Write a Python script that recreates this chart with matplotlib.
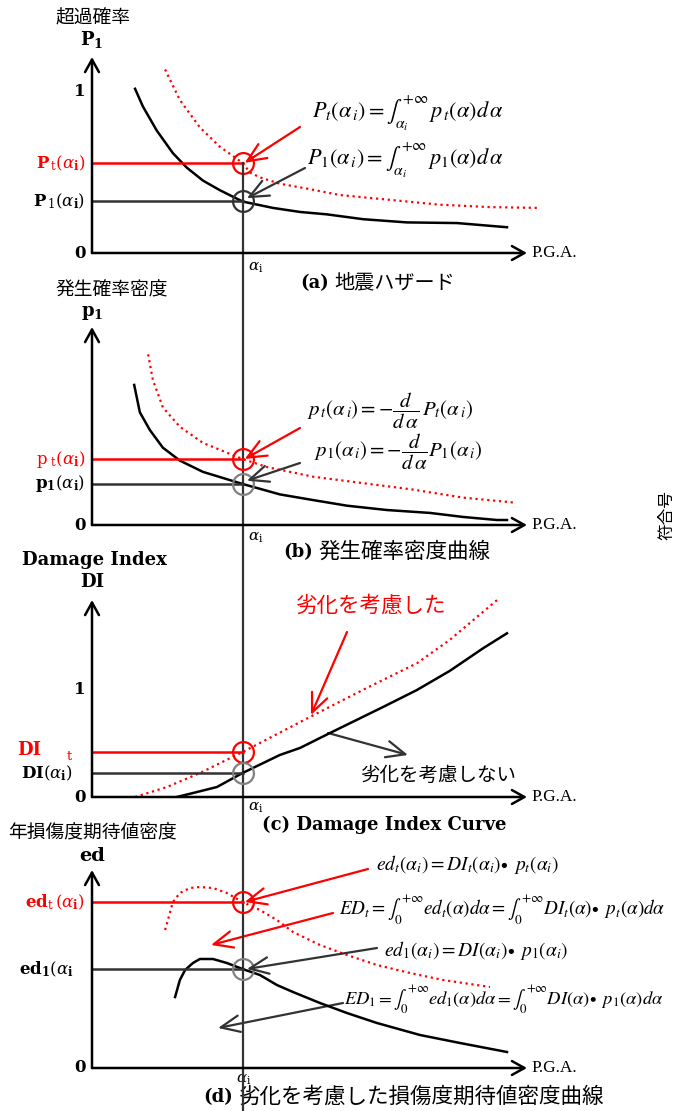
import numpy as np
import matplotlib.pyplot as plt
from matplotlib.transforms import blended_transform_factory

plt.rcParams['font.family'] = ['DejaVu Serif', 'Noto Sans CJK JP']
JP = 'Noto Sans CJK JP'

W, H = 677, 1111

# PGA of interest
alpha_i = 3.46

# (a) seismic hazard: exceedance probability
haz_x = [0.99, 1.17, 1.49, 1.86, 2.18, 2.55, 2.94, 3.46, 3.63, 4.16, 4.78, 5.40, 6.23, 7.24, 8.39, 9.54]
haz_P1 = [1.02, 0.91, 0.76, 0.62, 0.53, 0.45, 0.39, 0.32, 0.31, 0.28, 0.255, 0.24, 0.21, 0.19, 0.186, 0.16]
hazt_x = [1.68, 2.02, 2.48, 2.94, 3.46, 3.63, 3.86, 4.32, 4.94, 5.70, 6.85, 8.0, 9.15, 10.3]
haz_Pt = [1.14, 0.95, 0.78, 0.66, 0.56, 0.50, 0.47, 0.43, 0.40, 0.36, 0.33, 0.30, 0.285, 0.28]
P1_i, Pt_i = 0.32, 0.56

# (b) probability density
pdf_x = [0.97, 1.10, 1.33, 1.63, 2.02, 2.55, 3.46, 4.32, 5.08, 5.86, 6.78, 7.77, 8.53, 9.31, 9.54]
pdf_p1 = [0.87, 0.70, 0.59, 0.48, 0.40, 0.33, 0.255, 0.19, 0.155, 0.12, 0.093, 0.075, 0.05, 0.031, 0.031]
pdft_x = [1.29, 1.40, 1.63, 2.02, 2.55, 3.46, 4.02, 5.08, 6.23, 7.38, 8.53, 9.68]
pdf_pt = [1.06, 0.90, 0.73, 0.61, 0.51, 0.41, 0.36, 0.30, 0.26, 0.22, 0.17, 0.14]
p1_i, pt_i = 0.255, 0.41

# (c) damage index curve
di_x = [1.95, 2.32, 2.87, 3.46, 4.32, 4.78, 5.47, 6.69, 7.47, 8.23, 8.99, 9.54]
di_1 = [0.0, 0.037, 0.093, 0.224, 0.393, 0.458, 0.598, 0.841, 1.0, 1.18, 1.39, 1.53]
dit_x = [0.99, 1.72, 2.48, 3.46, 5.01, 6.32, 7.47, 8.23, 9.31]
di_t = [0.0, 0.093, 0.224, 0.42, 0.748, 1.02, 1.25, 1.47, 1.84]
DI1_i, DIt_i = 0.224, 0.42

# (d) expected damage density
ed_x = [1.91, 2.02, 2.14, 2.32, 2.48, 2.78, 3.10, 3.46, 3.86, 4.25, 4.62, 5.24, 5.86, 6.55, 7.54, 8.46, 9.54]
ed_1 = [0.71, 0.88, 0.98, 1.05, 1.09, 1.09, 1.05, 0.99, 0.93, 0.83, 0.76, 0.65, 0.55, 0.45, 0.33, 0.25, 0.16]
edt_x = [1.68, 1.79, 1.86, 2.02, 2.25, 2.48, 2.78, 3.10, 3.46, 3.86, 4.25, 4.62, 5.24, 5.86, 6.55, 7.31, 8.07, 9.15]
ed_t = [1.38, 1.55, 1.66, 1.75, 1.80, 1.81, 1.80, 1.75, 1.66, 1.58, 1.48, 1.36, 1.23, 1.13, 1.03, 0.95, 0.88, 0.81]
ed1_i, edt_i = 0.99, 1.66

fig = plt.figure(figsize=(W / 100, H / 100), dpi=100)
ov = fig.add_axes([0, 0, 1, 1])
ov.set_xlim(0, W)
ov.set_ylim(H, 0)
ov.axis('off')

axis_arrow = dict(arrowstyle='->,head_length=0.45,head_width=0.25', color='black',
                  lw=1.8, shrinkA=0, shrinkB=0, mutation_scale=20)


def make_panel(zero_px, tip_px, scale):
    ax = fig.add_axes([92 / W, 1 - zero_px / H, 435 / W, (zero_px - tip_px) / H])
    ytop = (zero_px - tip_px) / scale
    ax.set_xlim(0, 10)
    ax.set_ylim(0, ytop)
    ax.axis('off')
    ax.annotate('', xy=(10, 0), xytext=(0, 0), arrowprops=axis_arrow, annotation_clip=False)
    ax.annotate('', xy=(0, ytop), xytext=(0, 0), arrowprops=axis_arrow, annotation_clip=False)
    ax.text(10.1, 0, 'P.G.A.', ha='left', va='center', fontsize=12.5,
            family='Liberation Serif')
    ax.text(-0.15, 0, '0', ha='right', va='center', fontsize=12, fontweight='bold')
    return ax


def level(ax, y, color, circ):
    ax.plot([0, alpha_i], [y, y], color=color, lw=1.8, clip_on=False)
    ax.plot([alpha_i], [y], 'o', ms=15, mfc='none', mec=circ, mew=1.6, clip_on=False)


def pointer(ax, xy, start, color):
    ax.annotate('', xy=xy, xytext=start, textcoords=ov.transData,
                arrowprops=dict(arrowstyle='->,head_length=0.8,head_width=0.35', color=color,
                                lw=1.6, shrinkA=0, shrinkB=0, mutation_scale=17),
                annotation_clip=False)


def lab(x, y, s, color='black', size=12, **kw):
    ov.text(x, y, s, color=color, fontsize=size, math_fontfamily='dejavuserif', **kw)


def formula(x, y, s, size=15):
    ov.text(x, y, s, fontsize=size, math_fontfamily='stix', ha='left', va='center')


red = '#ff0000'
dark = '#333333'
grey = '#808080'

# ---- (a) hazard curve
ax_a = make_panel(253, 57, 161)
ax_a.plot(haz_x, haz_P1, color='black', lw=1.8)
ax_a.plot(hazt_x, haz_Pt, color=red, lw=1.6, ls=':', clip_on=False)
level(ax_a, Pt_i, red, red)
level(ax_a, P1_i, dark, dark)
ax_a.text(-0.15, 1, '1', ha='right', va='center', fontsize=12, fontweight='bold')
pointer(ax_a, (alpha_i + 0.05, Pt_i), (300, 127), red)
pointer(ax_a, (alpha_i + 0.1, P1_i + 0.02), (305, 168), dark)

# long PGA line through all panels
top = fig.transFigure.inverted().transform(ax_a.transData.transform((alpha_i, Pt_i)))[1]
ax_a.plot([alpha_i, alpha_i], [top, 0], color=dark, lw=1.6, clip_on=False,
          transform=blended_transform_factory(ax_a.transData, fig.transFigure))

ov.text(55, 18, '超過確率', fontsize=13.5, family=JP, va='center')
lab(92, 40, r'$\mathbf{P}_{\mathbf{1}}$', ha='center', va='center', size=13)
lab(85, 163, r'$\mathbf{P}_{\,\mathrm{t}}(\alpha_{\mathbf{i}})$', red, ha='right', va='center')
lab(85, 201, r'$\mathbf{P}_{\,1}(\alpha_{\mathbf{i}})$', ha='right', va='center')
lab(248, 268, r'$\alpha_{\mathrm{i}}$', ha='left', va='center', size=11)
ov.text(300, 283, '(a)', fontsize=13, fontweight='bold', va='center')
ov.text(334, 283, '地震ハザード', fontsize=14.5, family=JP, va='center')
formula(312, 113, r'$P_t\left(\alpha_{\,i}\right) = \int_{\alpha_i}^{+\infty}\, p_{\,t}\left(\alpha\right)d\,\alpha$', 16)
formula(307, 160, r'$P_1\left(\alpha_{\,i}\right) = \int_{\alpha_i}^{+\infty}\, p_1\left(\alpha\right)d\,\alpha$', 16)

# ---- (b) probability density
ax_b = make_panel(525, 327, 161)
ax_b.plot(pdf_x, pdf_p1, color='black', lw=1.8)
ax_b.plot(pdft_x, pdf_pt, color=red, lw=1.6, ls=':', clip_on=False)
level(ax_b, pt_i, red, red)
level(ax_b, p1_i, dark, grey)
pointer(ax_b, (alpha_i + 0.05, pt_i), (300, 428), red)
pointer(ax_b, (alpha_i + 0.1, p1_i + 0.02), (300, 463), dark)

ov.text(55, 290, '発生確率密度', fontsize=13.5, family=JP, va='center')
lab(92, 313, r'$\mathbf{p}_{\mathbf{1}}$', ha='center', va='center', size=13)
lab(85, 459, r'$\mathrm{p}_{\ \mathrm{t}}(\alpha_{\mathbf{i}})$', red, ha='right', va='center')
lab(85, 484, r'$\mathbf{p_1}(\alpha_{\mathbf{i}})$', ha='right', va='center')
lab(248, 538, r'$\alpha_{\mathrm{i}}$', ha='left', va='center', size=11)
ov.text(283, 552, '(b)', fontsize=13, fontweight='bold', va='center')
ov.text(318, 552, '発生確率密度曲線', fontsize=15.5, family=JP, va='center')
formula(307, 411, r'$p_{\,t}\left(\alpha_{\,i}\right) = -\dfrac{d}{d\,\alpha}\,P_t\left(\alpha_{\,i}\right)$')
formula(314, 452, r'$p_1\left(\alpha_{\,i}\right) = -\dfrac{d}{d\,\alpha}P_1\left(\alpha_{\,i}\right)$')

# ---- (c) damage index
ax_c = make_panel(797, 600, 107)
ax_c.plot(di_x, di_1, color='black', lw=1.8)
ax_c.plot(dit_x, di_t, color=red, lw=1.6, ls=':', clip_on=False)
level(ax_c, DIt_i, red, red)
level(ax_c, DI1_i, dark, grey)
ax_c.text(-0.15, 1, '1', ha='right', va='center', fontsize=12, fontweight='bold')

ov.text(22, 560, 'Damage Index', fontsize=13, fontweight='bold', va='center')
ov.text(92, 582, 'DI', fontsize=13, fontweight='bold', va='center', ha='center')
ov.text(17, 750, 'DI', fontsize=13, fontweight='bold', va='center', color=red)
ov.text(67, 757, 't', fontsize=9.5, va='center', color=red)
lab(73, 773, r'$\mathbf{DI}(\alpha_{\mathbf{i}})$', ha='right', va='center')
lab(248, 808, r'$\alpha_{\mathrm{i}}$', ha='left', va='center', size=11)
ov.text(262, 825, '(c) Damage Index Curve', fontsize=13, fontweight='bold', va='center')
ov.text(296, 606, '劣化を考慮した', fontsize=15.5, family=JP, va='center', color=red)
ov.text(360, 775, '劣化を考慮しない', fontsize=14, family=JP, va='center')
pointer(ov, (311, 715), (347, 632), red)
pointer(ov, (408, 755), (328, 733), dark)

# ---- (d) expected damage density
ax_d = make_panel(1068, 870, 100)
ax_d.plot(ed_x, ed_1, color='black', lw=1.8)
ax_d.plot(edt_x, ed_t, color=red, lw=1.6, ls=':', clip_on=False)
level(ax_d, edt_i, red, red)
level(ax_d, ed1_i, dark, grey)
pointer(ax_d, (alpha_i + 0.05, edt_i), (368, 869), red)
pointer(ov, (211, 945), (333, 913), red)
pointer(ax_d, (alpha_i + 0.1, ed1_i), (377, 948), dark)
pointer(ov, (218, 1028), (343, 1003), dark)

ov.text(8, 833, '年損傷度期待値密度', fontsize=13.5, family=JP, va='center')
ov.text(92, 856, 'ed', fontsize=14, fontweight='bold', va='center', ha='center')
lab(85, 902, r'$\mathbf{ed}_{\mathrm{t}}\,(\alpha_{\mathbf{i}})$', red, ha='right', va='center')
lab(74, 969, r'$\mathbf{ed_1}(\alpha_{\mathbf{i}}$', ha='right', va='center')
lab(236, 1080, r'$\alpha_{\mathrm{i}}$', ha='left', va='center', size=11)
ov.text(203, 1097, '(d)', fontsize=13, fontweight='bold', va='center')
ov.text(239, 1097, '劣化を考慮した損傷度期待値密度曲線', fontsize=15.5, family=JP, va='center')
formula(376, 865, r'$ed_t\left(\alpha_i\right) = DI_t\left(\alpha_i\right)\!\bullet\ p_t\left(\alpha_i\right)$', 14)
formula(339, 910, r'$ED_t = \int_0^{+\infty} ed_t\left(\alpha\right)d\alpha = \int_0^{+\infty} DI_t\left(\alpha\right)\!\bullet\ p_t\left(\alpha\right)d\alpha$', 13.8)
formula(384, 950, r'$ed_1\left(\alpha_i\right) = DI\left(\alpha_i\right)\!\bullet\ p_1\left(\alpha_i\right)$', 14)
formula(344, 1000, r'$ED_1 = \int_0^{+\infty} ed_1\left(\alpha\right)d\alpha = \int_0^{+\infty} DI\left(\alpha\right)\!\bullet\ p_1\left(\alpha\right)d\alpha$', 13.3)

ov.text(667, 515, '符合号', fontsize=12, family=JP, rotation=90, ha='center', va='center')

fig.savefig('out.png', dpi=100)
